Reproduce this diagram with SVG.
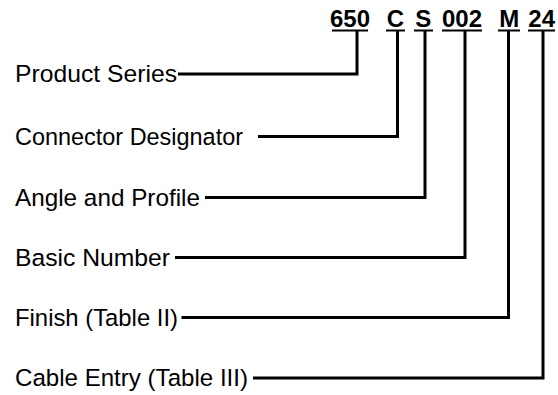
<svg xmlns="http://www.w3.org/2000/svg" width="558" height="395" viewBox="0 0 558 395">
<style>
.lbl{font-family:"Liberation Sans",Arial,sans-serif;font-size:24.5px;fill:#000}
.code{font-family:"Liberation Sans",Arial,sans-serif;font-size:24px;font-weight:bold;fill:#000;text-anchor:middle}
.ul{stroke:#000;stroke-width:2}
.conn{fill:none;stroke:#000;stroke-width:3;stroke-linejoin:miter}
</style>
<rect width="558" height="395" fill="#fff"/>
<g id="code">
<g id="c650"><text class="code" x="350" y="27">650</text><line class="ul" x1="332" y1="30.5" x2="368" y2="30.5"/></g>
<g id="cC"><text class="code" x="395.5" y="27">C</text><line class="ul" x1="386" y1="30.5" x2="405" y2="30.5"/></g>
<g id="cS"><text class="code" x="423.3" y="27">S</text><line class="ul" x1="414" y1="30.5" x2="433" y2="30.5"/></g>
<g id="c002"><text class="code" x="462" y="27">002</text><line class="ul" x1="442" y1="30.5" x2="482" y2="30.5"/></g>
<g id="cM"><text class="code" x="509.2" y="27">M</text><line class="ul" x1="498" y1="30.5" x2="520" y2="30.5"/></g>
<g id="c24"><text class="code" x="541.7" y="27">24</text><line class="ul" x1="528" y1="30.5" x2="555" y2="30.5"/></g>
</g>
<g id="n1"><text class="lbl" x="15" y="82" textLength="162" lengthAdjust="spacingAndGlyphs">Product Series</text></g>
<g id="n2"><text class="lbl" x="15" y="144.5" textLength="228" lengthAdjust="spacingAndGlyphs">Connector Designator</text></g>
<g id="n3"><text class="lbl" x="15" y="205.5" textLength="185" lengthAdjust="spacingAndGlyphs">Angle and Profile</text></g>
<g id="n4"><text class="lbl" x="15" y="265.5" textLength="155" lengthAdjust="spacingAndGlyphs">Basic Number</text></g>
<g id="n5"><text class="lbl" x="15" y="325.5" textLength="163" lengthAdjust="spacingAndGlyphs">Finish (Table II)</text></g>
<g id="n6"><text class="lbl" x="15" y="386" textLength="233" lengthAdjust="spacingAndGlyphs">Cable Entry (Table III)</text></g>
<g id="connectors">
<path class="conn" d="M178 74 H357 V31"/>
<path class="conn" d="M258 136.5 H397.5 V31"/>
<path class="conn" d="M205 197.5 H425 V31"/>
<path class="conn" d="M175 257.5 H465 V31"/>
<path class="conn" d="M181.5 317.5 H508.5 V31"/>
<path class="conn" d="M253 378 H543 V31"/>
</g>
</svg>
